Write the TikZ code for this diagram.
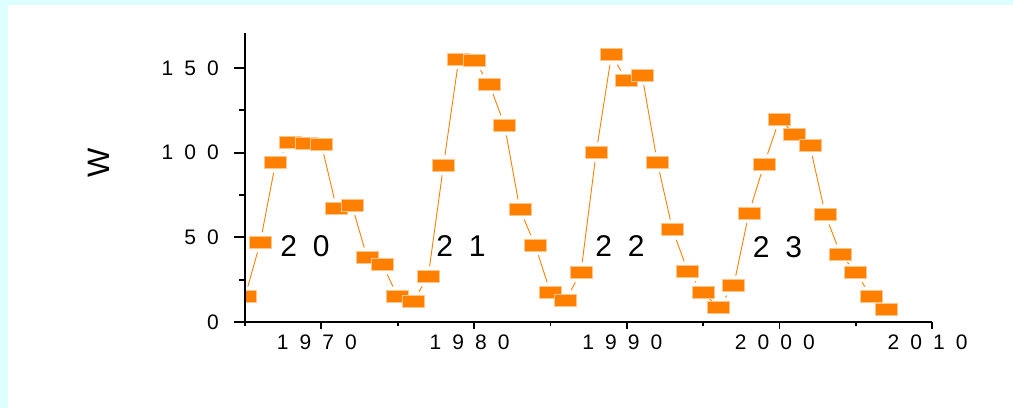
\documentclass[tikz,border=0pt]{standalone}
\usepackage{fontspec}
\setmainfont{Liberation Sans}[WordSpace=1.9]
\usetikzlibrary{backgrounds}
\definecolor{sunorange}{RGB}{255,128,0}
\definecolor{paneframe}{RGB}{221,255,255}

\begin{document}
\begin{tikzpicture}[x=1pt, y=1pt,
    spot/.style={rectangle, fill=sunorange, draw=sunorange!45, line width=0.7pt, minimum width=22pt, minimum height=12pt, inner sep=0pt, outer sep=4pt},
    trace/.style={draw=sunorange, line width=0.9pt},
    axisline/.style={line width=1.8pt},
    ylab/.style={anchor=east, xshift=-26pt, inner sep=0pt, font=\fontsize{21}{24}\selectfont},
    xlab/.style={anchor=center, xshift=-4.5pt, yshift=-20.5pt, inner sep=0pt, font=\fontsize{21}{24}\selectfont},
    cyclab/.style={inner sep=0pt, font=\fontsize{30}{34}\selectfont}]
    \useasboundingbox (0,0) rectangle (1013,408);

    % backdrop
    \begin{scope}[on background layer]
        \fill[paneframe] (0,0) rectangle (1013,408);
        \fill[white] (8,0) rectangle (1013,403);
    \end{scope}

    % data frame: years from 1965, W
    \begin{scope}[shift={(245,86)}, x=15.27pt, y=1.694pt]
        % yearly points
        \begin{scope}
            \clip (0,0) rectangle (46,180);
            \foreach \yr/\w in {1965/15, 1966/47, 1967/94, 1968/106, 1969/105.5, 1970/105,
                1971/67, 1972/69, 1973/38, 1974/34, 1975/15, 1976/12, 1977/27, 1978/92.5,
                1979/155.3, 1980/154.5, 1981/140.5, 1982/116, 1983/66.4, 1984/45.3, 1985/17.5,
                1986/13, 1987/29.3, 1988/100.2, 1989/157.8, 1990/142.5, 1991/145.8, 1992/94.3,
                1993/54.5, 1994/29.9, 1995/17.4, 1996/8.6, 1997/21.4, 1998/64.2, 1999/93.3,
                2000/119.7, 2001/111, 2002/104, 2003/63.5, 2004/40, 2005/29.5, 2006/15, 2007/7.3} {
                \node[spot] (p\yr) at ({\yr-1965},\w) {};
            }
        \end{scope}

        % connections
        \begin{scope}[on background layer]
            \foreach \yr in {1965,...,2006} {
                \pgfmathtruncatemacro{\nx}{\yr+1}
                \draw[trace] (p\yr) -- (p\nx);
            }
        \end{scope}

        % axes
        \draw[axisline] (0,170.6) -- (0,0) -- (45,0);
        \foreach \w in {0,50,100,150} \draw[axisline] (0,\w) -- ++(-11pt,0);
        \foreach \w in {25,75,125} \draw[axisline] (0,\w) -- ++(-6pt,0);
        \foreach \t in {5,15,...,45} \draw[axisline] (\t,0) -- ++(0,-7pt);
        \foreach \t in {0,10,...,40} \draw[axisline] (\t,0) -- ++(0,-4pt);

        % tick labels
        \foreach \w/\txt in {0/0, 50/5 0, 100/1 0 0, 150/1 5 0}
            \node[ylab] (yl\w) at (0,\w) {\txt};
        \foreach \t/\txt in {5/1 9 7 0, 15/1 9 8 0, 25/1 9 9 0, 35/2 0 0 0, 45/2 0 1 0}
            \node[xlab] (xl\t) at (\t,0) {\txt};
    \end{scope}

    % cycle numbers
    \node[cyclab] (c20) at (305,162) {2 0};
    \node[cyclab] (c21) at (461,162) {2 1};
    \node[cyclab] (c22) at (620,162) {2 2};
    \node[cyclab] (c23) at (777.5,161) {2 3};

    % axis title
    \node[rotate=90, inner sep=0pt, font=\fontsize{31}{34}\selectfont] (wlab) at (99,245.5) {W};
\end{tikzpicture}
\end{document}
